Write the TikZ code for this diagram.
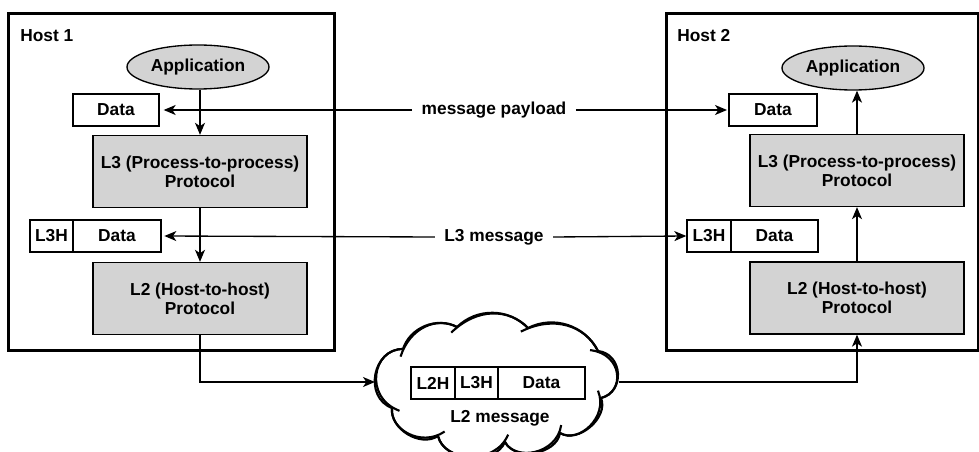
\documentclass[tikz,border=0pt]{standalone}
\usepackage{fontspec}
\setmainfont{Liberation Sans}
\usetikzlibrary{arrows.meta,shapes.geometric}
\definecolor{gfill}{RGB}{211,211,211}
\begin{document}
\begin{tikzpicture}[x=0.75pt,y=-0.75pt,
  every node/.style={font=\bfseries\fontsize{13}{14.5}\selectfont, inner sep=0pt, align=center},
  hostbox/.style={draw, line width=2.25pt, minimum width=#1*0.75pt, minimum height=337*0.75pt},
  proto/.style={draw, line width=1pt, fill=gfill, minimum width=214*0.75pt, minimum height=72*0.75pt},
  appl/.style={draw, line width=1pt, fill=gfill, ellipse, minimum width=142*0.75pt, minimum height=44*0.75pt},
  cell/.style={draw, line width=1pt, fill=white, minimum width=#1*0.75pt, minimum height=32*0.75pt},
  lbl/.style={fill=white, inner xsep=7pt},
  arr/.style={line width=1pt, -{Stealth[length=9pt,width=7.5pt,inset=2.5pt]}},
  cloudline/.style={line width=1.6pt},
  hook/.style={cloudline, shorten <=-6pt}
]
\useasboundingbox (0,0) rectangle (979,452);
\clip (0,0) rectangle (979,452);
% host frames
\node[hostbox=326] (host1) at (171,182.5) {};
\node[hostbox=312] (host2) at (822,182.5) {};
\node[anchor=base west] (h1lbl) at (20,42) {Host 1};
\node[anchor=base west] (h2lbl) at (677,42) {Host 2};
% host 1
\node[appl] (app1) at (198,67) {Application};
\node[cell=86] (data1) at (116,110) {Data};
\node[proto] (l3a) at (200,171.5) {L3 (Process-to-process)\\Protocol};
\node[cell=43] (hd1) at (51.5,236) {L3H};
\node[cell=88] (dd1) at (117,236) {Data};
\node[proto] (l2a) at (200,298.5) {L2 (Host-to-host)\\Protocol};
% host 2
\node[appl] (app2) at (853,68) {Application};
\node[cell=88] (data2) at (773,110) {Data};
\node[proto] (l3b) at (857,170.5) {L3 (Process-to-process)\\Protocol};
\node[cell=44] (hd2) at (709,236) {L3H};
\node[cell=87] (dd2) at (774.5,236) {Data};
\node[proto] (l2b) at (857,298) {L2 (Host-to-host)\\Protocol};
% cloud (cusp points)
\coordinate (c0) at (392,408);
\coordinate (c1) at (403,349);
\coordinate (c2) at (457,327);
\coordinate (c3) at (528,328);
\coordinate (c4) at (598,351);
\coordinate (c5) at (601,398);
\coordinate (c6) at (560,433);
\coordinate (c7) at (505,442);
\coordinate (c8) at (438,436);
\coordinate (netW) at (375,382);
\coordinate (netE) at (619,382);
\path[cloudline, draw, fill=white] (c0) to[bend left=80, looseness=1.3] (c1) to[bend left=50] (c2)
  to[bend left=45] (c3) to[bend left=45] (c4) to[bend left=80, looseness=1.36] (c5)
  to[bend left=72] (c6) to[bend left=72] (c7) to[bend left=72] (c8)
  to[bend left=65] (c0) -- cycle;
\draw[hook] (c1) to[bend left=50] (c2);
\draw[hook] (c2) to[bend left=45] (c3);
\draw[hook] (c3) to[bend left=45] (c4);
\draw[hook] (c4) to[bend left=80, looseness=1.36] (c5);
\draw[hook] (c5) to[bend left=72] (c6);
\draw[hook] (c6) to[bend left=72] (c7);
\draw[hook] (c7) to[bend left=72] (c8);
\draw[hook] (c8) to[bend left=65] (c0);
\draw[hook] (c0) to[bend left=80, looseness=1.3] (c1);
\node[cell=44] (p1) at (433,383) {L2H};
\node[cell=43] (p2) at (476.5,383) {L3H};
\node[cell=87] (p3) at (541.5,383) {Data};
\node (l2msg) at (500,418) {L2 message};
% labels on middle arrows
\node[lbl] (mp) at (494,110) {message payload};
\node[lbl] (l3m) at (494,237) {L3 message};
% arrows
\draw[arr] (l3a.north |- app1.south) -- (l3a.north);
\draw[arr] (l3a.south) -- (l2a.north);
\draw[arr] (l3b.north) -- (l3b.north |- app2.south);
\draw[arr] (l2b.north) -- (l3b.south);
\draw[arr, shorten >=3pt] (mp.west) -- (data1.east);
\draw[arr, shorten >=1pt] (mp.east) -- (data2.west);
\draw[arr, shorten >=2pt] (l3m.west) -- (dd1.east);
\draw[arr] (l3m.east) -- (hd2.west);
\draw[arr] (l2a.south) |- (netW);
\draw[arr] (netE) -| (l2b.south);
\end{tikzpicture}
\end{document}
